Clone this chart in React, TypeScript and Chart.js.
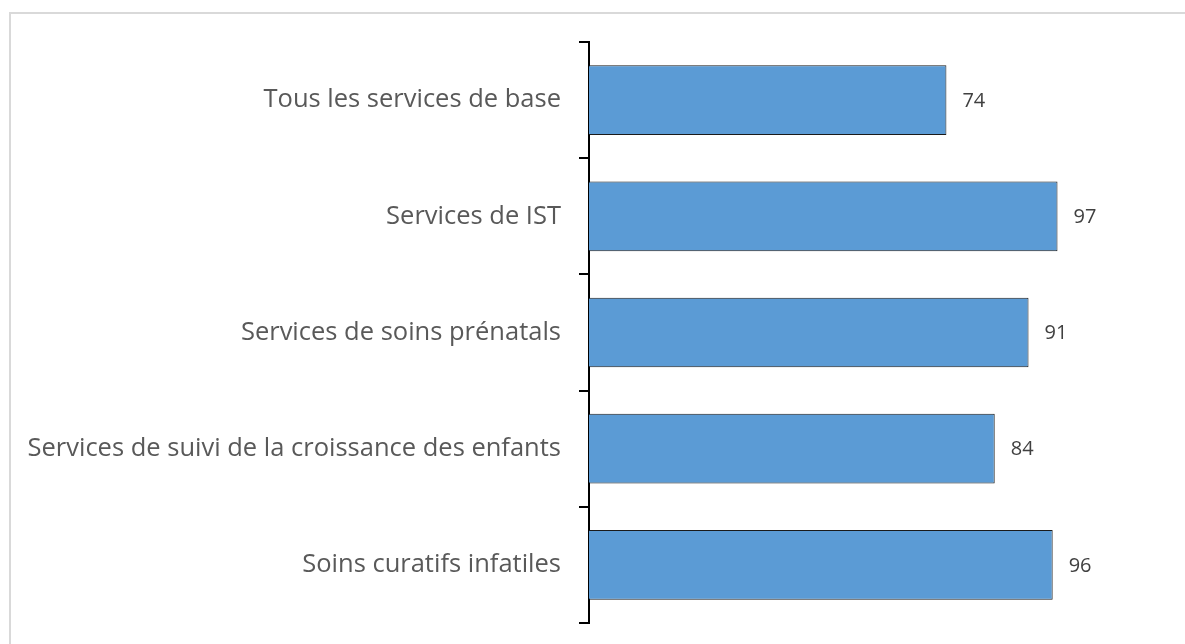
import React, { useEffect, useRef } from "react";
import { Chart, registerables } from "chart.js";

Chart.register(...registerables);

const categories = [
  "Tous les services de base",
  "Services de IST",
  "Services de soins prénatals",
  "Services de suivi de la croissance des enfants",
  "Soins curatifs infatiles",
];
const values = [74, 97, 91, 84, 96];

const valueLabels = {
  id: "valueLabels",
  afterDatasetsDraw(chart: any) {
    const ctx = chart.ctx;
    const meta = chart.getDatasetMeta(0);
    ctx.save();
    ctx.font = "20px 'Open Sans', sans-serif";
    ctx.fillStyle = "#404040";
    ctx.textAlign = "left";
    ctx.textBaseline = "middle";
    meta.data.forEach((bar: any, i: number) => {
      ctx.fillText(String(values[i]), bar.x + 16, bar.y + 1);
    });
    ctx.restore();
  },
};

export default function App() {
  const ref = useRef<HTMLCanvasElement>(null);
  useEffect(() => {
    if (!ref.current) return;
    const chart = new Chart(ref.current, {
      type: "bar",
      data: {
        labels: categories,
        datasets: [
          {
            data: values,
            backgroundColor: "#5b9bd5",
            borderColor: "#1a1a1a",
            borderWidth: 1,
            barPercentage: 0.6,
            categoryPercentage: 1,
          },
        ],
      },
      options: {
        indexAxis: "y",
        animation: false,
        responsive: true,
        maintainAspectRatio: false,
        layout: { padding: { top: 42, bottom: 21, right: 113, left: 0 } },
        plugins: { legend: { display: false }, tooltip: { enabled: false } },
        scales: {
          x: { display: false, min: 0, max: 100 },
          y: {
            grid: {
              drawOnChartArea: false,
              drawTicks: true,
              tickLength: 10,
              color: "#000",
              lineWidth: 2,
            },
            border: { display: true, color: "#000", width: 2 },
            ticks: {
              color: "#595959",
              font: { size: 25.5, family: "'Open Sans', sans-serif" },
              padding: 18,
            },
            afterFit(scale: any) {
              scale.width = 589;
              scale.paddingTop = 0;
              scale.paddingBottom = 0;
            },
          },
        },
      },
      plugins: [valueLabels],
    });
    return () => chart.destroy();
  }, []);
  return (
    <div style={{ position: "fixed", left: 0, top: 0, width: 1185, height: 644, background: "#fff" }}>
      <div
        style={{
          position: "absolute",
          left: 9,
          top: 12,
          width: 1185,
          height: 700,
          borderTop: "2px solid #d9d9d9",
          borderLeft: "2px solid #d9d9d9",
          boxSizing: "border-box",
        }}
      />
      <div style={{ position: "absolute", left: 0, top: 0, width: 1185, height: 644 }}>
        <canvas ref={ref} />
      </div>
    </div>
  );
}
